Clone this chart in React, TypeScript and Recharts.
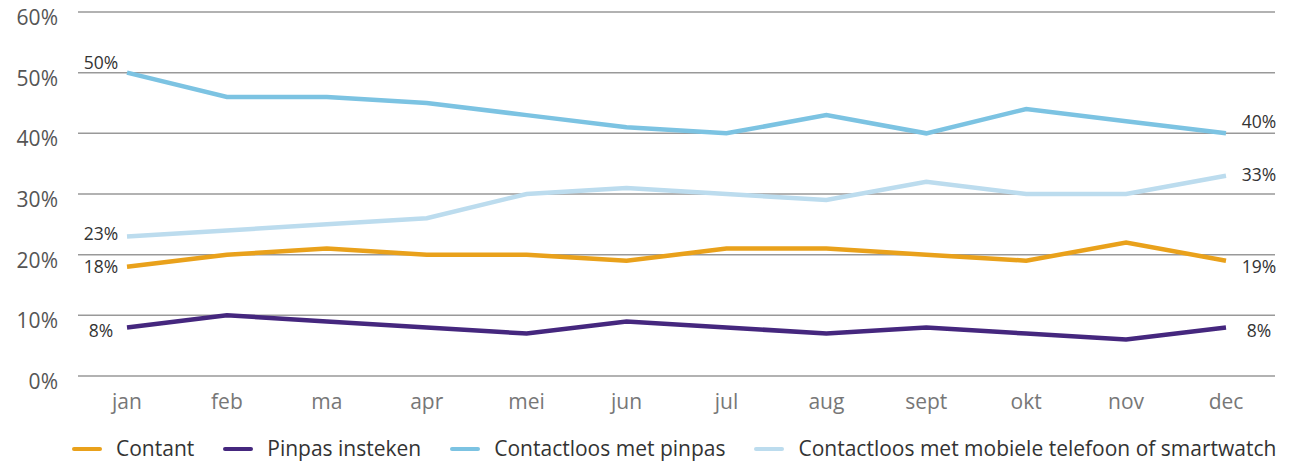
import React from "react";
import { LineChart, Line, XAxis, YAxis, CartesianGrid, Legend } from "recharts";

const months = ["jan", "feb", "ma", "apr", "mei", "jun", "jul", "aug", "sept", "okt", "nov", "dec"];
const contant = [18, 20, 21, 20, 20, 19, 21, 21, 20, 19, 22, 19];
const pinpasInsteken = [8, 10, 9, 8, 7, 9, 8, 7, 8, 7, 6, 8];
const contactloosPinpas = [50, 46, 46, 45, 43, 41, 40, 43, 40, 44, 42, 40];
const contactloosMobiel = [23, 24, 25, 26, 30, 31, 30, 29, 32, 30, 30, 33];
const yTicks = [0, 10, 20, 30, 40, 50, 60];

const data = months.map((m, i) => ({
  month: m,
  contant: contant[i],
  pinpas: pinpasInsteken[i],
  cpinpas: contactloosPinpas[i],
  cmobiel: contactloosMobiel[i],
}));

const FONT = "'Open Sans', sans-serif";

const series = [
  { key: "contant", name: "Contant", color: "#E9A11B", firstDy: 0, lastDy: 6 },
  { key: "pinpas", name: "Pinpas insteken", color: "#45277E", firstDy: 3, lastDy: 3 },
  { key: "cpinpas", name: "Contactloos met pinpas", color: "#7CC3E2", firstDy: -10, lastDy: -11 },
  { key: "cmobiel", name: "Contactloos met mobiele telefoon of smartwatch", color: "#BCDCEE", firstDy: -3, lastDy: -1 },
];

const makeLabel = (firstDy: number, lastDy: number) => (props: any) => {
  const { x, y, index, value } = props;
  if (index !== 0 && index !== months.length - 1) return null;
  const first = index === 0;
  return (
    <text
      x={x + (first ? -26 : 33)}
      y={y + (first ? firstDy : lastDy)}
      dy="0.35em"
      textAnchor="middle"
      fontFamily={FONT}
      fontSize={17.5}
      fill="#333"
    >
      {value}%
    </text>
  );
};

const YTick = (props: any) => {
  const { x, y, payload } = props;
  return (
    <text x={x} y={y} dy={13} textAnchor="end" fontFamily={FONT} fontSize={21} fill="#555">
      {payload.value}%
    </text>
  );
};

const XTick = (props: any) => {
  const { x, y, payload } = props;
  return (
    <text x={x} y={y} dy={15} textAnchor="middle" fontFamily={FONT} fontSize={21} fill="#777">
      {payload.value}
    </text>
  );
};

const LegendContent = () => (
  <div
    style={{
      display: "flex",
      alignItems: "center",
      paddingLeft: 72,
      height: 24,
      lineHeight: "24px",
      fontFamily: FONT,
      fontSize: 21,
      color: "#333",
      whiteSpace: "nowrap",
    }}
  >
    {series.map((s) => (
      <div key={s.key} style={{ display: "flex", alignItems: "center", marginRight: 29 }}>
        <span
          style={{
            display: "inline-block",
            width: 30,
            height: 4.5,
            borderRadius: 2.5,
            background: s.color,
            marginRight: 14,
            position: "relative",
            top: 1,
          }}
        />
        <span>{s.name}</span>
      </div>
    ))}
  </div>
);

export default function App() {
  return (
    <div style={{ position: "absolute", left: 0, top: 0 }}>
      <LineChart width={1299} height={464} data={data} margin={{ top: 12, right: 24, bottom: 4, left: 0 }}>
        <CartesianGrid vertical={false} stroke="#999" strokeWidth={1.5} />
        <XAxis
          dataKey="month"
          axisLine={false}
          tickLine={false}
          tickSize={0}
          tickMargin={18}
          height={60}
          padding={{ left: 49, right: 49 }}
          tick={<XTick />}
          interval={0}
        />
        <YAxis
          domain={[0, 60]}
          ticks={yTicks}
          axisLine={false}
          tickLine={false}
          tickSize={0}
          tickMargin={20}
          width={78}
          tick={<YTick />}
        />
        <Legend verticalAlign="bottom" content={<LegendContent />} />
        {series.map((s) => (
          <Line
            key={s.key}
            dataKey={s.key}
            name={s.name}
            stroke={s.color}
            strokeWidth={4.5}
            dot={false}
            activeDot={false}
            isAnimationActive={false}
            label={makeLabel(s.firstDy, s.lastDy)}
          />
        ))}
      </LineChart>
    </div>
  );
}
